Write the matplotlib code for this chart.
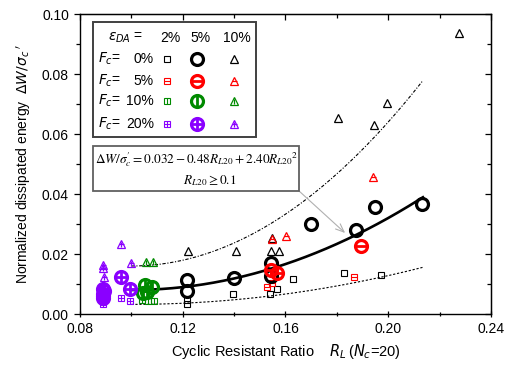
import matplotlib
matplotlib.use('Agg')
import matplotlib.pyplot as plt
from matplotlib.patches import Rectangle
from matplotlib.ticker import MultipleLocator, FormatStrFormatter, NullFormatter
import numpy as np

plt.rcParams['font.family'] = ['Liberation Sans', 'DejaVu Sans']

# data: (x = R_L, y = dW/sigma_c')
# Fc = 0%
f0_da2_x = [0.1215, 0.1215, 0.1397, 0.1540, 0.1566, 0.1630, 0.1826, 0.1970]
f0_da2_y = [0.0047, 0.0033, 0.0068, 0.0067, 0.0083, 0.0118, 0.0138, 0.0129]
f0_da5_x = [0.1215, 0.1215, 0.1400, 0.1543, 0.1543, 0.1701, 0.1875, 0.1948, 0.2132]
f0_da5_y = [0.0113, 0.0078, 0.0119, 0.0171, 0.0127, 0.0299, 0.0280, 0.0358, 0.0366]
f0_da10_x = [0.1222, 0.1406, 0.1543, 0.1576, 0.1549, 0.1804, 0.1945, 0.1997, 0.2274]
f0_da10_y = [0.0211, 0.0211, 0.0211, 0.0211, 0.0252, 0.0654, 0.0630, 0.0704, 0.0936]
# Fc = 5%
f5_da2_x = [0.1527, 0.1549, 0.1865]
f5_da2_y = [0.0089, 0.0102, 0.0122]
f5_da5_x = [0.1543, 0.1566, 0.1894]
f5_da5_y = [0.0147, 0.0136, 0.0228]
f5_da10_x = [0.1546, 0.1601, 0.1942]
f5_da10_y = [0.0249, 0.0261, 0.0458]
# Fc = 10%
f10_da2_x = [0.1040, 0.1066, 0.1088]
f10_da2_y = [0.0047, 0.0043, 0.0043]
f10_da5_x = [0.1053, 0.1079, 0.1044, 0.1062]
f10_da5_y = [0.0097, 0.0089, 0.0069, 0.0074]
f10_da10_x = [0.1057, 0.1085]
f10_da10_y = [0.0172, 0.0174]
# Fc = 20%
f20_da2_x = [0.0891, 0.0891, 0.0960, 0.0995]
f20_da2_y = [0.0040, 0.0034, 0.0052, 0.0044]
f20_da5_x = [0.0890, 0.0892, 0.0889, 0.0891, 0.0890, 0.0960, 0.0995]
f20_da5_y = [0.0083, 0.0076, 0.0068, 0.0060, 0.0053, 0.0122, 0.0083]
f20_da10_x = [0.0891, 0.0891, 0.0895, 0.0960, 0.0997]
f20_da10_y = [0.0165, 0.0152, 0.0125, 0.0233, 0.0169]

# fitted curve dW/sigma_c' = a + b*R + c*R^2, with upper/lower bounds
fit_coef = [0.032, -0.48, 2.40]
fit_range = [0.10, 0.2135]
bound_factors = [2.0, 0.4]

colors = {'0': 'black', '5': '#ff0000', '10': '#008a00', '20': '#8a00ff'}
inner = {'0': None, '5': '_', '10': '|', '20': '+'}
mstyle = {'s': dict(ms=4.6, mew=0.8, ims=4.6, imew=0.8),
          'o': dict(ms=8.6, mew=2.3, ims=7.0, imew=2.0),
          '^': dict(ms=6.2, mew=0.9, ims=3.6, imew=0.9)}


def draw(ax, xs, ys, m, fc, **kw):
    st = mstyle[m]
    c = colors[fc]
    ax.plot(xs, ys, ls='none', marker=m, ms=st['ms'], mew=st['mew'], mec=c, mfc='none', **kw)
    if inner[fc]:
        ax.plot(xs, ys, ls='none', marker=inner[fc], ms=st['ims'], mew=st['imew'], mec=c, **kw)


fig = plt.figure(figsize=(5.1, 3.71), dpi=100)
ax = fig.add_axes([80/510, 57/371, 411/510, 300/371])

r = np.linspace(fit_range[0], fit_range[1], 200)
fit = fit_coef[0] + fit_coef[1]*r + fit_coef[2]*r**2
ax.plot(r, fit, color='black', lw=1.9, zorder=2)
ax.plot(r, bound_factors[0]*fit, color='black', lw=0.8, dashes=(3, 1.5, 1, 1.5), zorder=2)
ax.plot(r, bound_factors[1]*fit, color='black', lw=0.8, dashes=(2, 1.6), zorder=2)

groups = [('0', f0_da2_x, f0_da2_y, f0_da5_x, f0_da5_y, f0_da10_x, f0_da10_y),
          ('5', f5_da2_x, f5_da2_y, f5_da5_x, f5_da5_y, f5_da10_x, f5_da10_y),
          ('10', f10_da2_x, f10_da2_y, f10_da5_x, f10_da5_y, f10_da10_x, f10_da10_y),
          ('20', f20_da2_x, f20_da2_y, f20_da5_x, f20_da5_y, f20_da10_x, f20_da10_y)]
for fc, x2, y2, x5, y5, x10, y10 in groups:
    draw(ax, x2, y2, 's', fc, zorder=3)
    draw(ax, x10, y10, '^', fc, zorder=3)
    draw(ax, x5, y5, 'o', fc, zorder=4)

ax.set_xlim(0.08, 0.24)
ax.set_ylim(0.0, 0.10)
ax.xaxis.set_major_locator(MultipleLocator(0.04))
ax.xaxis.set_minor_locator(MultipleLocator(0.02))
ax.yaxis.set_major_locator(MultipleLocator(0.02))
ax.yaxis.set_minor_locator(MultipleLocator(0.01))
ax.xaxis.set_major_formatter(FormatStrFormatter('%.2f'))
ax.yaxis.set_major_formatter(FormatStrFormatter('%.2f'))
ax.tick_params(which='both', labelsize=10, width=0.9)
ax.tick_params(which='major', length=4.5)
ax.tick_params(which='minor', length=3)
ax.tick_params(axis='y', which='both', direction='out')
ax.tick_params(axis='x', which='both', direction='inout')
for sp in ax.spines.values():
    sp.set_linewidth(1.0)

# top / right inward ticks, no labels
top = ax.secondary_xaxis('top')
top.xaxis.set_major_locator(MultipleLocator(0.04))
top.xaxis.set_minor_locator(MultipleLocator(0.02))
right = ax.secondary_yaxis('right')
right.yaxis.set_major_locator(MultipleLocator(0.02))
right.yaxis.set_minor_locator(MultipleLocator(0.01))
for sec in (top, right):
    sec.tick_params(which='both', direction='in', width=0.9)
    sec.tick_params(which='major', length=4.5)
    sec.tick_params(which='minor', length=3)
top.xaxis.set_major_formatter(NullFormatter())
right.yaxis.set_major_formatter(NullFormatter())

ax.set_xlabel(r'Cyclic Resistant Ratio    $R_L\,$($N_c$=20)', fontsize=10.5, labelpad=4,
              math_fontfamily='dejavusans')
ax.set_ylabel(r'Normalized dissipated energy  $\mathit{\Delta W/\sigma_c}\,^{\prime}$',
              fontsize=10, labelpad=6, math_fontfamily='dejavusans')

# legend box
T = ax.transAxes
ax.add_patch(Rectangle((0.032, 0.59), 0.396, 0.383, transform=T, fill=True, fc='white',
                       ec='#404040', lw=1.4, zorder=6))
ax.text(0.068, 0.92, r'$\varepsilon_{DA}$ =', transform=T, fontsize=10, va='center',
        zorder=7, math_fontfamily='dejavusans')
for xc, lab in zip([0.219, 0.292, 0.382], ['2%', '5%', '10%']):
    ax.text(xc, 0.92, lab, transform=T, fontsize=10, ha='center', va='center', zorder=7)
row_y = [0.85, 0.777, 0.71, 0.633]
for yy, fc in zip(row_y, ['0', '5', '10', '20']):
    ax.text(0.044, yy, r'$F_c$=', transform=T, fontsize=10, va='center', zorder=7,
            math_fontfamily='dejavusans')
    ax.text(0.180, yy, fc + '%', transform=T, fontsize=10, ha='right', va='center', zorder=7)
    draw(ax, [0.212], [yy], 's', fc, transform=T, zorder=7, clip_on=False)
    draw(ax, [0.284], [yy], 'o', fc, transform=T, zorder=7, clip_on=False)
    draw(ax, [0.374], [yy], '^', fc, transform=T, zorder=7, clip_on=False)

# equation box
ax.add_patch(Rectangle((0.032, 0.41), 0.501, 0.15, transform=T, fc='white',
                       ec='#606060', lw=1.3, zorder=6))
ax.text(0.285, 0.515, r'$\Delta W/\sigma^{\prime}_{c} = 0.032 - 0.48R_{L20} + 2.40{R_{L20}}^{2}$',
        transform=T, fontsize=9.5, ha='center', va='center', zorder=7, math_fontfamily='stix')
ax.text(0.315, 0.445, r'$R_{L20} \geq 0.1$', transform=T, fontsize=9.5, ha='center',
        va='center', zorder=7, math_fontfamily='stix')
ax.annotate('', xy=(0.1832, 0.027), xycoords='data', xytext=(0.533, 0.41), textcoords='axes fraction',
            arrowprops=dict(arrowstyle='->,head_length=0.6,head_width=0.25', color='#b0b0b0', lw=0.8,
                            shrinkA=0, shrinkB=0), zorder=5)

fig.savefig('out.png', dpi=100)
